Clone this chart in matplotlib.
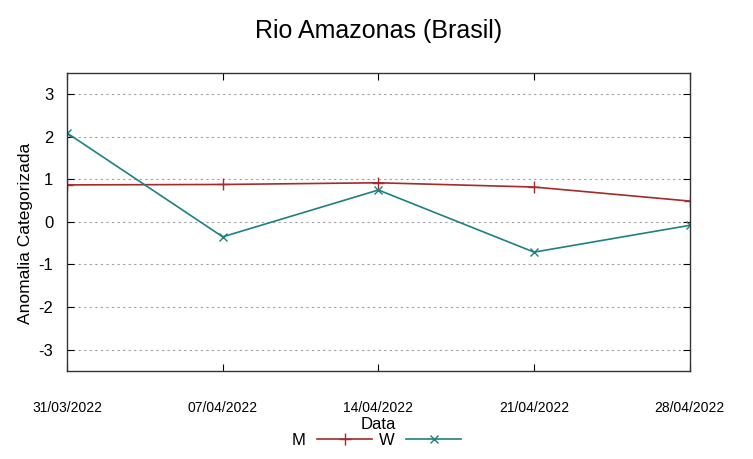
import datetime as dt
import matplotlib
matplotlib.use("Agg")
import matplotlib.pyplot as plt
import matplotlib.dates as mdates

plt.rcParams['font.family'] = ['Liberation Sans', 'DejaVu Sans']
plt.rcParams['axes.unicode_minus'] = False

# data
datas = ["31/03/2022", "07/04/2022", "14/04/2022", "21/04/2022", "28/04/2022"]
serie_m = [0.87, 0.88, 0.92, 0.82, 0.49]
serie_w = [2.09, -0.35, 0.75, -0.71, -0.08]
yticks = [-3, -2, -1, 0, 1, 2, 3]

x = [dt.datetime.strptime(d, "%d/%m/%Y") for d in datas]

fig = plt.figure(figsize=(7.53, 4.59), dpi=100)
ax = fig.add_axes([0.089, 0.192, 0.827, 0.649])

cor_m = "#a52a2a"
cor_w = "#1f8080"
ax.plot(x, serie_m, color=cor_m, linewidth=1.2, marker="+", markersize=8,
        markeredgewidth=1.0, label="M")
ax.plot(x, serie_w, color=cor_w, linewidth=1.2, marker="x", markersize=6,
        markeredgewidth=1.0, label="W")

ax.set_xlim(x[0], x[-1])
ax.set_ylim(-3.5, 3.5)
ax.set_yticks(yticks)
ax.set_xticks(x)
ax.xaxis.set_major_formatter(mdates.DateFormatter("%d/%m/%Y"))
ax.tick_params(axis="x", labelsize=10, pad=22, direction="in", top=True, length=5)
ax.tick_params(axis="y", labelsize=12, pad=10, direction="in", right=True, length=5)
ax.grid(axis="y", color="#a0a0a0", linestyle=(0, (2, 3)), linewidth=0.8)
for s in ax.spines.values():
    s.set_linewidth(1.0)
    s.set_color("#333333")

ax.set_title("Rio Amazonas (Brasil)", fontsize=18, pad=25)
ax.set_ylabel("Anomalia Categorizada", fontsize=12.5)
ax.yaxis.set_label_coords(-0.054, 0.463)
ax.set_xlabel("Data", fontsize=12, labelpad=1)

fig.legend(loc="center", bbox_to_anchor=(0.5, 0.041), ncol=2, frameon=False,
           markerfirst=False, handlelength=3.3, columnspacing=0.4,
           handletextpad=0.7, fontsize=12)

fig.savefig("out.png", dpi=100)
